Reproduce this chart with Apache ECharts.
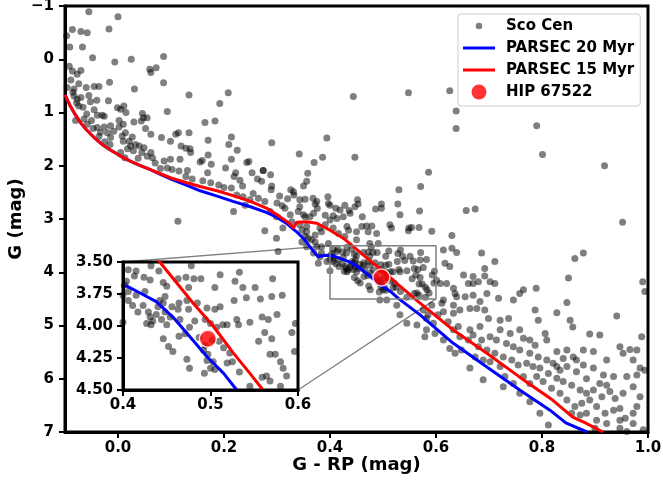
<!DOCTYPE html>
<html><head><meta charset="utf-8">
<script src="https://cdn.jsdelivr.net/npm/echarts@6/dist/echarts.min.js"></script>
<style>html,body{margin:0;padding:0;background:#fff}#c{width:663px;height:487px}</style>
</head><body><div id="c"></div>
<script>
// ---- data (G - RP, G) ----
const scoUpper = [[-0.055,-0.89],[0.0,-0.80],[-0.086,-0.56],[-0.070,-0.52],[-0.058,-0.50],[-0.017,-0.57],[-0.097,-0.44],[-0.091,-0.23],[-0.067,-0.23],[-0.048,-0.03],[-0.006,0.05],[0.025,0.0],[0.086,-0.05],[-0.092,0.13],[-0.086,0.22],[-0.070,0.21],[-0.077,0.28],[-0.089,0.39],[-0.074,0.46],[-0.096,0.53],[-0.083,0.56],[-0.060,0.53],[-0.045,0.51],[-0.036,0.51],[-0.016,0.43],[0.062,0.25],[0.072,0.16],[0.060,0.19],[0.086,0.44],[0.031,0.56],[-0.055,0.68],[-0.083,0.69],[-0.077,0.75],[-0.070,0.72],[-0.052,0.80],[-0.040,0.77],[-0.018,0.78],[-0.074,0.88],[-0.059,1.03],[-0.045,0.95],[-0.039,1.05],[-0.030,1.05],[-0.026,1.07],[-0.080,1.15],[-0.001,0.91],[0.011,0.88],[0.005,0.94],[0.015,1.0],[0.002,1.15],[0.010,1.22],[0.030,1.18],[0.046,1.02],[0.048,1.10],[0.055,1.10],[0.044,1.16],[0.093,0.98],[0.134,0.67],[0.208,0.63],[0.192,0.83],[0.164,1.19],[0.183,1.16],[-0.039,1.28],[-0.026,1.27],[-0.014,1.25],[-0.033,1.37],[-0.020,1.38],[-0.014,1.47],[-0.008,1.35],[0.002,1.27],[0.008,1.44],[0.014,1.38],[0.027,1.46],[0.033,1.60],[0.024,1.63],[0.029,1.72],[0.040,1.63],[0.049,1.66],[0.052,1.30],[0.062,1.41],[0.045,1.75],[0.055,1.82],[0.065,1.85],[0.062,1.75],[0.082,1.47],[0.099,1.54],[0.109,1.41],[0.114,1.38],[0.119,1.63],[0.128,1.67],[0.136,1.68],[0.137,1.75],[0.134,1.38],[0.087,1.91],[0.099,1.88],[0.117,1.88],[0.093,2.04],[0.102,2.07],[0.115,2.10],[0.131,2.09],[0.155,1.93],[0.159,1.90],[0.170,1.52],[0.170,1.80],[0.176,1.97],[0.169,2.13],[0.209,1.60],[0.214,1.46],[0.225,1.71],[0.214,1.88],[0.203,2.04],[0.222,2.13],[0.243,1.94],[0.247,1.92],[0.274,2.09],[0.253,2.13],[-0.015,1.60],[0.005,1.75],[0.013,1.85],[0.021,1.54],[0.010,1.54],[-0.085,0.62],[-0.078,0.82],[-0.066,0.90],[-0.064,1.12],[-0.050,1.15],[-0.047,1.30],[-0.058,1.22],[-0.036,1.45],[-0.025,1.55],[0.018,1.68],[0.038,1.86],[0.070,1.95],[0.080,2.05],[0.113,3.04]];
const scoMid = [[0.290,1.57],[0.394,1.48],[0.342,1.78],[0.386,1.84],[0.447,1.84],[0.370,1.94],[0.358,2.14],[0.356,2.29],[0.350,2.38],[0.274,2.09],[0.288,2.17],[0.263,2.25],[0.271,2.29],[0.219,2.20],[0.230,2.27],[0.235,2.38],[0.214,2.42],[0.290,2.38],[0.289,2.45],[0.326,2.45],[0.331,2.49],[0.332,2.55],[0.343,2.64],[0.353,2.63],[0.368,2.61],[0.372,2.72],[0.376,2.80],[0.396,2.58],[0.397,2.71],[0.411,2.80],[0.419,2.83],[0.436,2.84],[0.452,2.64],[0.453,2.72],[0.447,2.77],[0.486,2.81],[0.497,2.72],[0.530,2.45],[0.571,2.39],[0.528,2.72],[0.569,2.85],[0.532,2.92],[0.461,2.96],[0.516,3.17],[0.549,3.17],[0.554,3.16],[0.568,3.16],[0.586,2.12],[0.224,2.55],[0.236,2.58],[0.249,2.64],[0.265,2.61],[0.277,2.67],[0.218,2.86],[0.240,2.74],[0.287,2.86],[0.299,2.96],[0.315,2.80],[0.325,2.92],[0.340,2.86],[0.350,2.92],[0.362,2.96],[0.277,3.22],[0.299,3.36],[0.311,3.17],[0.328,3.05],[0.343,3.11],[0.356,3.24],[0.353,3.33],[0.365,3.39],[0.372,3.30],[0.381,3.17],[0.391,3.11],[0.400,3.02],[0.406,3.17],[0.416,3.27],[0.428,3.33],[0.435,3.21],[0.450,3.24],[0.460,3.14],[0.469,3.13],[0.479,3.13],[0.472,3.24],[0.488,3.27],[0.475,3.46],[0.375,3.52],[0.384,3.64],[0.397,3.46],[0.378,3.83],[0.302,3.61],[0.160,2.28],[0.175,2.32],[0.190,2.36],[0.200,2.41],[0.140,2.25],[0.128,2.20],[0.255,2.52],[0.300,2.70],[0.310,2.75],[0.320,2.62],[0.305,2.57]];
const scoRight = [[0.444,0.70],[0.548,0.63],[0.626,0.59],[0.638,0.97],[0.638,1.30],[0.790,1.25],[0.801,1.79],[0.918,2.0],[0.657,2.84],[0.674,2.81],[0.952,3.06],[0.425,2.96],[0.406,2.94],[0.548,3.22],[0.592,3.23],[0.630,3.31]];
const scoBand = [[0.375,2.67],[0.400,2.74],[0.428,2.74],[0.497,2.80],[0.513,3.11],[0.353,2.96],[0.369,2.89],[0.391,2.93],[0.413,2.99],[0.438,2.89],[0.432,3.14],[0.384,3.24],[0.491,3.46],[0.614,3.58],[0.630,3.55],[0.670,4.08],[0.680,4.18],[0.620,4.21],[0.601,4.15],[0.614,4.52],[0.639,4.46],[0.677,4.68],[0.633,4.77],[0.614,4.74],[0.582,4.87],[0.564,4.99],[0.545,4.96],[0.532,4.80],[0.526,4.62],[0.507,4.52],[0.494,4.52],[0.381,3.71],[0.369,3.64],[0.356,3.52],[0.347,3.43],[0.359,3.36],[0.372,3.43],[0.384,3.52],[0.394,3.80],[0.450,3.39],[0.347,3.21],[0.356,3.14],[0.343,2.77]];
const scoLower = [[0.639,3.63],[0.686,3.64],[0.862,3.74],[0.878,3.64],[0.711,3.80],[0.617,3.83],[0.626,3.89],[0.692,3.93],[0.652,4.05],[0.692,4.07],[0.702,4.18],[0.711,4.21],[0.670,4.21],[0.661,4.21],[0.850,4.11],[0.990,4.18],[0.994,4.36],[0.608,4.21],[0.633,4.30],[0.636,4.40],[0.655,4.46],[0.670,4.43],[0.696,4.40],[0.718,4.49],[0.746,4.52],[0.765,4.33],[0.758,4.40],[0.789,4.30],[0.847,4.57],[0.787,4.71],[0.828,4.76],[0.793,4.90],[0.853,4.90],[0.858,5.03],[0.941,4.82],[0.890,5.16],[0.909,5.18],[0.988,5.21],[0.683,4.55],[0.692,4.71],[0.664,4.68],[0.645,4.71],[0.633,4.62],[0.611,4.58],[0.592,4.62],[0.604,4.80],[0.623,4.93],[0.642,5.02],[0.664,5.08],[0.683,5.02],[0.699,4.87],[0.721,4.90],[0.737,4.87],[0.721,5.08],[0.740,5.15],[0.758,5.08],[0.765,5.24],[0.777,5.27],[0.787,5.37],[0.806,5.15],[0.809,5.27],[0.828,5.49],[0.847,5.46],[0.859,5.59],[0.878,5.46],[0.897,5.49],[0.922,5.65],[0.947,5.40],[0.953,5.52],[0.966,5.45],[0.979,5.46],[0.972,5.65],[0.985,5.80],[0.994,5.84],[0.960,5.96],[0.979,5.93],[0.935,5.96],[0.922,6.12],[0.909,6.09],[0.884,6.0],[0.865,5.87],[0.847,5.77],[0.834,5.84],[0.821,5.71],[0.809,5.65],[0.793,5.59],[0.777,5.52],[0.758,5.46],[0.746,5.40],[0.733,5.34],[0.714,5.27],[0.702,5.21],[0.686,5.27],[0.670,5.18],[0.661,5.27],[0.645,5.21],[0.633,5.08],[0.648,5.46],[0.664,5.80],[0.689,6.02],[0.702,5.68],[0.721,5.77],[0.730,5.96],[0.746,6.09],[0.727,6.15],[0.758,6.27],[0.777,6.43],[0.796,6.65],[0.812,6.87],[0.765,5.96],[0.777,6.09],[0.790,5.96],[0.802,6.05],[0.818,6.18],[0.834,6.27],[0.847,6.40],[0.862,6.52],[0.875,6.46],[0.890,6.40],[0.903,6.52],[0.919,6.65],[0.935,6.59],[0.947,6.78],[0.957,6.74],[0.972,6.65],[0.985,6.34],[0.972,6.15],[0.953,6.27],[0.938,6.37],[0.928,6.24],[0.913,6.34],[0.897,6.21],[0.884,6.27],[0.872,6.21],[0.856,6.12],[0.840,6.05],[0.828,5.99],[0.812,5.90],[0.796,5.80],[0.783,5.77],[0.771,5.71],[0.755,5.74],[0.743,5.65],[0.727,5.59],[0.711,5.52],[0.696,5.46],[0.680,5.40],[0.674,5.59],[0.689,5.65],[0.636,5.52],[0.626,5.43],[0.614,5.27],[0.598,5.15],[0.582,5.08],[0.579,5.21],[0.595,4.96],[0.585,4.80],[0.576,4.71],[0.972,6.84],[0.991,6.96],[0.979,6.52],[0.947,6.56],[0.922,6.84],[0.903,6.78],[0.884,6.65],[0.872,6.68],[0.856,6.65],[0.900,6.93],[0.947,6.93],[0.960,6.99],[0.916,5.93],[0.897,5.80],[0.878,5.74],[0.865,5.65],[0.840,5.62],[0.828,5.77]];
const scoInset = [[0.432,3.53],[0.441,3.57],[0.478,3.53],[0.406,3.56],[0.415,3.57],[0.413,3.61],[0.424,3.62],[0.431,3.64],[0.446,3.66],[0.450,3.69],[0.463,3.63],[0.472,3.62],[0.481,3.63],[0.489,3.63],[0.475,3.70],[0.511,3.60],[0.533,3.58],[0.571,3.63],[0.528,3.65],[0.505,3.70],[0.537,3.70],[0.551,3.70],[0.582,3.76],[0.570,3.77],[0.557,3.79],[0.541,3.78],[0.527,3.80],[0.511,3.85],[0.505,3.87],[0.496,3.86],[0.485,3.82],[0.473,3.80],[0.464,3.82],[0.456,3.85],[0.463,3.87],[0.475,3.87],[0.465,3.95],[0.454,3.93],[0.442,3.80],[0.446,3.82],[0.440,3.85],[0.448,3.89],[0.438,3.91],[0.431,3.93],[0.429,3.89],[0.434,3.96],[0.427,3.98],[0.432,3.99],[0.423,3.84],[0.417,3.89],[0.411,3.84],[0.406,3.80],[0.415,3.76],[0.425,3.73],[0.406,3.73],[0.400,3.76],[0.400,3.97],[0.446,4.10],[0.452,4.16],[0.457,4.20],[0.464,4.08],[0.471,4.06],[0.476,4.01],[0.482,3.96],[0.494,3.95],[0.500,3.98],[0.507,4.01],[0.514,3.99],[0.519,3.99],[0.530,3.95],[0.532,3.99],[0.545,3.97],[0.559,3.93],[0.566,3.95],[0.576,3.91],[0.562,4.05],[0.593,4.05],[0.597,3.98],[0.570,4.10],[0.555,4.12],[0.510,4.12],[0.515,4.17],[0.522,4.21],[0.525,4.28],[0.519,4.29],[0.503,4.28],[0.496,4.27],[0.500,4.33],[0.505,4.34],[0.497,4.22],[0.492,4.19],[0.494,4.15],[0.473,4.26],[0.476,4.33],[0.493,4.37],[0.533,4.36],[0.545,4.47],[0.559,4.40],[0.564,4.39],[0.568,4.43],[0.568,4.22],[0.574,4.22],[0.580,4.28],[0.587,4.39],[0.583,4.33],[0.596,4.20],[0.580,4.47],[0.444,3.95],[0.450,3.99],[0.448,3.77],[0.404,3.65],[0.402,3.68],[0.487,4.09],[0.502,4.11]];
const scoCen = [].concat(scoUpper, scoMid, scoRight, scoBand, scoLower, scoInset);

const parsec20 = [[-0.1,0.67],[-0.09,0.88],[-0.08,1.05],[-0.07,1.2],[-0.06,1.32],[-0.045,1.47],[-0.03,1.6],[-0.015,1.7],[0.0,1.79],[0.02,1.9],[0.04,1.99],[0.06,2.07],[0.08,2.16],[0.1,2.25],[0.13,2.37],[0.155,2.47],[0.19,2.58],[0.217,2.67],[0.25,2.77],[0.281,2.88],[0.30,2.97],[0.319,3.09],[0.337,3.24],[0.352,3.39],[0.362,3.52],[0.37,3.62],[0.378,3.71],[0.386,3.69],[0.394,3.68],[0.405,3.69],[0.419,3.74],[0.438,3.81],[0.457,3.93],[0.476,4.08],[0.496,4.24],[0.515,4.37],[0.53,4.5],[0.57,4.8],[0.632,5.33],[0.696,5.78],[0.758,6.21],[0.815,6.59],[0.845,6.83],[0.885,7.0]];
const parsec15 = [[-0.1,0.67],[-0.09,0.88],[-0.08,1.05],[-0.07,1.2],[-0.06,1.32],[-0.045,1.47],[-0.03,1.6],[-0.015,1.7],[0.0,1.79],[0.02,1.9],[0.04,1.99],[0.06,2.07],[0.08,2.15],[0.1,2.23],[0.13,2.32],[0.155,2.39],[0.19,2.48],[0.217,2.56],[0.25,2.67],[0.281,2.80],[0.306,2.96],[0.323,3.08],[0.331,3.17],[0.337,3.06],[0.356,3.05],[0.375,3.08],[0.40,3.21],[0.425,3.36],[0.442,3.5],[0.461,3.66],[0.48,3.82],[0.503,4.0],[0.526,4.21],[0.545,4.37],[0.56,4.5],[0.57,4.58],[0.632,5.08],[0.696,5.52],[0.758,5.97],[0.82,6.40],[0.858,6.72],[0.88,6.82],[0.915,7.0]];
const hip67522 = [[0.497, 4.10]];
const zoomBox = [[0.4,3.5],[0.6,3.5],[0.6,4.5],[0.4,4.5],[0.4,3.5]];

const mainXTicks = [0.0, 0.2, 0.4, 0.6, 0.8, 1.0];
const mainYTicks = [-1, 0, 1, 2, 3, 4, 5, 6, 7];
const insetXTicks = [0.4, 0.5, 0.6];
const insetYTicks = [3.5, 3.75, 4.0, 4.25, 4.5];

// ---- chart ----
const FONT = 'DejaVu Sans';
const lbl = (extra) => Object.assign({color:'#000', fontFamily:FONT, fontWeight:'bold', fontSize:15}, extra||{});
const chart = echarts.init(document.getElementById('c'), null, {renderer:'canvas'});
const circIcon = r => `path://M0,0 M32,0 M0,16 M32,16 M${16-r},8 A${r},${r} 0 1 1 ${16+r},8 A${r},${r} 0 1 1 ${16-r},8 Z`;
const lineIcon = 'path://M0,0 M32,0 M0,16 M32,16 M0,6.5 L32,6.5 L32,9.5 L0,9.5 Z';

function axisX(grid, min, max, ticks, fmt, z, margin, extra) {
  return Object.assign({
    type:'value', gridIndex:grid, min:min, max:max, z:z,
    axisLine:{show:true, onZero:false, lineStyle:{color:'#000', width:3}},
    axisTick:{show:true, length:6, inside:false, customValues:ticks, lineStyle:{color:'#000', width:2}},
    axisLabel:{show:true, customValues:ticks, formatter:fmt, margin:margin, ...lbl()},
    splitLine:{show:false}
  }, extra||{});
}
function axisY(grid, min, max, ticks, fmt, z, margin, extra) {
  return Object.assign({
    type:'value', gridIndex:grid, min:min, max:max, inverse:true, z:z,
    axisLine:{show:true, onZero:false, lineStyle:{color:'#000', width:3}},
    axisTick:{show:true, length:6, inside:false, customValues:ticks, lineStyle:{color:'#000', width:2}},
    axisLabel:{show:true, customValues:ticks, formatter:fmt, margin:margin, ...lbl()},
    splitLine:{show:false}
  }, extra||{});
}

chart.setOption({
  animation:false,
  backgroundColor:'#fff',
  grid:[
    {left:65, top:6, width:583, height:426, show:true, borderColor:'#000', borderWidth:3, backgroundColor:'transparent', z:0,
      containLabel:false, outerBoundsMode:'none'},
    {left:123, top:262, width:175, height:128, show:true, borderColor:'#000', borderWidth:3, backgroundColor:'#fff', z:10,
      containLabel:false, outerBoundsMode:'none'}
  ],
  xAxis:[
    axisX(0, -0.1, 1.0, mainXTicks, v => (+v).toFixed(1), 3, 9,
      {name:'G - RP (mag)', nameLocation:'middle', nameGap:24, nameMoveOverlap:false, nameTextStyle:lbl({fontSize:18})}),
    axisX(1, 0.4, 0.6, insetXTicks, v => (+v).toFixed(1), 14, 8)
  ],
  yAxis:[
    axisY(0, -1, 7, mainYTicks, v => v < 0 ? '\u2212' + Math.abs(v) : String(v), 3, 11,
      {name:'G (mag)', nameLocation:'middle', nameGap:40, nameMoveOverlap:false, nameRotate:90, nameTextStyle:lbl({fontSize:18})}),
    axisY(1, 3.5, 4.5, insetYTicks, v => (+v).toFixed(2), 14, 10)
  ],
  legend:{
    orient:'vertical', left:458, top:14, z:20,
    itemWidth:32, itemHeight:16, itemGap:6,
    padding:[4,6,6,5],
    backgroundColor:'rgba(255,255,255,0.8)', borderColor:'#cccccc', borderWidth:1, borderRadius:3,
    textStyle:lbl({padding:[0,0,0,6]}),
    data:[
      {name:'Sco Cen', icon:circIcon(3.3), itemStyle:{color:'#000', opacity:0.5, borderWidth:0}},
      {name:'PARSEC 20 Myr', icon:lineIcon, itemStyle:{color:'#0000ff', borderWidth:0}},
      {name:'PARSEC 15 Myr', icon:lineIcon, itemStyle:{color:'#ff0000', borderWidth:0}},
      {name:'HIP 67522', icon:circIcon(7.5), itemStyle:{color:'#ff0000', borderWidth:0}}
    ]
  },
  series:[
    {name:'Sco Cen', type:'scatter', xAxisIndex:0, yAxisIndex:0, data:scoCen, symbolSize:7, z:2,
      itemStyle:{color:'#000', opacity:0.5}, silent:true},
    {name:'PARSEC 20 Myr', type:'line', xAxisIndex:0, yAxisIndex:0, data:parsec20, showSymbol:false, symbol:'none', z:3,
      itemStyle:{color:'#0000ff'}, lineStyle:{color:'#0000ff', width:3}, silent:true},
    {name:'PARSEC 15 Myr', type:'line', xAxisIndex:0, yAxisIndex:0, data:parsec15, showSymbol:false, symbol:'none', z:4,
      itemStyle:{color:'#ff0000'}, lineStyle:{color:'#ff0000', width:3}, silent:true},
    {name:'zoom box', type:'line', xAxisIndex:0, yAxisIndex:0, data:zoomBox, showSymbol:false, symbol:'none', z:5,
      lineStyle:{color:'#808080', width:1.5}, silent:true},
    {name:'HIP 67522', type:'scatter', xAxisIndex:0, yAxisIndex:0, data:hip67522, symbolSize:17, z:6,
      itemStyle:{color:'#ff0000', borderColor:'#fff', borderWidth:1.5}, silent:true},
    // inset
    {name:'Sco Cen', type:'scatter', xAxisIndex:1, yAxisIndex:1, data:scoCen, symbolSize:7, z:11, clip:true,
      itemStyle:{color:'#000', opacity:0.5}, silent:true},
    {name:'PARSEC 20 Myr', type:'line', xAxisIndex:1, yAxisIndex:1, data:parsec20, showSymbol:false, symbol:'none', z:12, clip:true,
      itemStyle:{color:'#0000ff'}, lineStyle:{color:'#0000ff', width:3}, silent:true},
    {name:'PARSEC 15 Myr', type:'line', xAxisIndex:1, yAxisIndex:1, data:parsec15, showSymbol:false, symbol:'none', z:12, clip:true,
      itemStyle:{color:'#ff0000'}, lineStyle:{color:'#ff0000', width:3}, silent:true},
    {name:'HIP 67522', type:'scatter', xAxisIndex:1, yAxisIndex:1, data:hip67522, symbolSize:17, z:13, clip:true,
      itemStyle:{color:'#ff0000', borderColor:'#fff', borderWidth:1.5}, silent:true}
  ]
});

// connector lines between the zoom box and the inset
const a1 = chart.convertToPixel({gridIndex:1}, [0.4, 3.5]);
const b1 = chart.convertToPixel({gridIndex:0}, [0.4, 3.5]);
const a2 = chart.convertToPixel({gridIndex:1}, [0.6, 4.5]);
const b2 = chart.convertToPixel({gridIndex:0}, [0.6, 4.5]);
chart.setOption({
  graphic:[
    {type:'line', z:1, silent:true, shape:{x1:a1[0], y1:a1[1], x2:b1[0], y2:b1[1]}, style:{stroke:'#808080', lineWidth:1.3}},
    {type:'line', z:1, silent:true, shape:{x1:a2[0], y1:a2[1], x2:b2[0], y2:b2[1]}, style:{stroke:'#808080', lineWidth:1.3}}
  ]
});
</script>
</body></html>
